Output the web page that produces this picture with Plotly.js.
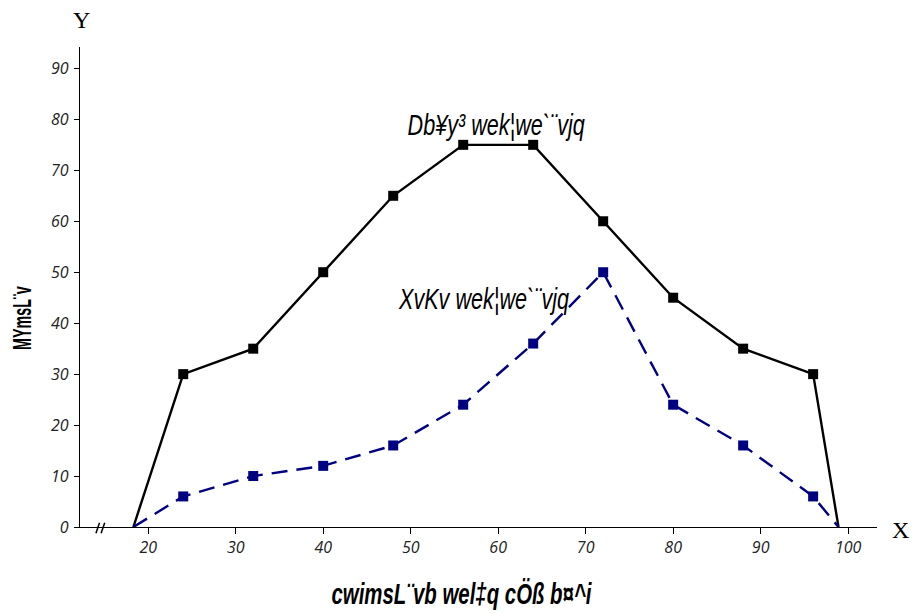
<!DOCTYPE html>
<html>
<head>
<meta charset="utf-8">
<script src="https://cdn.plot.ly/plotly-3.0.1.min.js"></script>
<style>html,body{margin:0;padding:0;background:#fff;}#chart{width:914px;height:614px;}</style>
</head>
<body>
<div id="chart"></div>
<script>
// Data
const scoreX = [18.3, 24, 32, 40, 48, 56, 64, 72, 80, 88, 96, 98.9];
const openUniv = [0, 30, 35, 50, 65, 75, 75, 60, 45, 35, 30, 0];
const dhakaUniv = [0, 6, 10, 12, 16, 24, 36, 50, 24, 16, 6, 0];
const xTicks = [20, 30, 40, 50, 60, 70, 80, 90, 100];
const yTicks = [0, 10, 20, 30, 40, 50, 60, 70, 80, 90];
const labelOpen = "Db¥y³ wek¦we`¨vjq";
const labelDhaka = "XvKv wek¦we`¨vjq";
const xTitle = "cwimsL¨vb wel‡q cÖß b¤^i";
const yTitle = "MYmsL¨v";

const sansFam = '"Liberation Sans", Arial, sans-serif';
const sizes = scoreX.map((_, i) => (i === 0 || i === scoreX.length - 1) ? 0 : 10);

const traces = [
  {x: scoreX, y: openUniv, mode: 'lines+markers', type: 'scatter',
   line: {color: '#000000', width: 2.4},
   marker: {symbol: 'square', size: sizes, color: '#000000', opacity: 1, line: {width: 0}}},
  {x: scoreX, y: dhakaUniv, mode: 'lines+markers', type: 'scatter',
   line: {color: '#000080', width: 2.4, dash: '16px,9px'},
   marker: {symbol: 'square', size: sizes, color: '#000080', opacity: 1, line: {width: 0}}}
];

const layout = {
  width: 914, height: 614,
  margin: {l: 80, r: 37, t: 47, b: 87},
  paper_bgcolor: '#ffffff', plot_bgcolor: '#ffffff',
  showlegend: false,
  xaxis: {range: [12.2, 103.3], tickvals: xTicks, ticktext: xTicks.map(String),
    showgrid: false, zeroline: false, showline: true, linecolor: '#000', linewidth: 1.2,
    ticks: 'outside', ticklen: 6, tickcolor: '#000',
    tickfont: {family: '"Open Sans", "Liberation Sans", sans-serif', size: 16, color: '#222', style: 'italic'}},
  yaxis: {range: [0, 94.2], tickvals: yTicks, ticktext: yTicks.map(String),
    showgrid: false, zeroline: false, showline: true, linecolor: '#000', linewidth: 1.2,
    ticks: 'outside', ticklen: 5, tickcolor: '#000', ticklabelstandoff: 2,
    tickfont: {family: '"Open Sans", "Liberation Sans", sans-serif', size: 16, color: '#222', style: 'italic'}},
  annotations: [
    {text: labelOpen, xref: 'paper', yref: 'paper', x: 0.522, y: 0.8375, xanchor: 'center', yanchor: 'middle', showarrow: false,
     font: {family: sansFam, size: 30, color: '#000', style: 'italic'}},
    {text: labelDhaka, xref: 'paper', yref: 'paper', x: 0.506, y: 0.477, xanchor: 'center', yanchor: 'middle', showarrow: false,
     font: {family: sansFam, size: 30, color: '#000', style: 'italic'}},
    {text: xTitle, xref: 'paper', yref: 'paper', x: 0.479, y: -0.138, xanchor: 'center', yanchor: 'middle', showarrow: false,
     font: {family: sansFam, size: 30, color: '#000', style: 'italic', weight: 'bold'}},
    {text: yTitle, xref: 'paper', yref: 'paper', x: -0.073, y: 0.435, xanchor: 'center', yanchor: 'middle', textangle: -90, showarrow: false,
     font: {family: sansFam, size: 26, color: '#000', weight: 'bold'}},
    {text: 'Y', xref: 'paper', yref: 'paper', x: 0.002, y: 1.056, xanchor: 'center', yanchor: 'middle', showarrow: false,
     font: {family: '"Liberation Serif", "DejaVu Serif", serif', size: 24, color: '#000'}},
    {text: 'X', xref: 'paper', yref: 'paper', x: 1.029, y: -0.006, xanchor: 'center', yanchor: 'middle', showarrow: false,
     font: {family: '"Liberation Serif", "DejaVu Serif", serif', size: 24, color: '#000'}}
  ],
  shapes: [
    {type: 'line', xref: 'paper', yref: 'paper', x0: 0.02, x1: 0.0245, y0: -0.013, y1: 0.009, line: {color: '#000', width: 1.5}},
    {type: 'line', xref: 'paper', yref: 'paper', x0: 0.0265, x1: 0.031, y0: -0.013, y1: 0.009, line: {color: '#000', width: 1.5}}
  ]
};

Plotly.newPlot('chart', traces, layout, {displayModeBar: false, staticPlot: true}).then(function (gd) {
  // horizontally compress the texts (the reference uses a narrow face)
  const squeeze = {0: 0.72, 1: 0.72, 2: 0.68, 3: 0.55};
  gd.querySelectorAll('.annotation').forEach(function (g) {
    const idx = +g.getAttribute('data-index');
    if (!(idx in squeeze)) return;
    const t = g.querySelector('text.annotation-text');
    if (!t) return;
    t.style.transformBox = 'fill-box';
    t.style.transformOrigin = 'center';
    t.style.transform = 'scaleX(' + squeeze[idx] + ')';
  });
});
</script>
</body>
</html>
